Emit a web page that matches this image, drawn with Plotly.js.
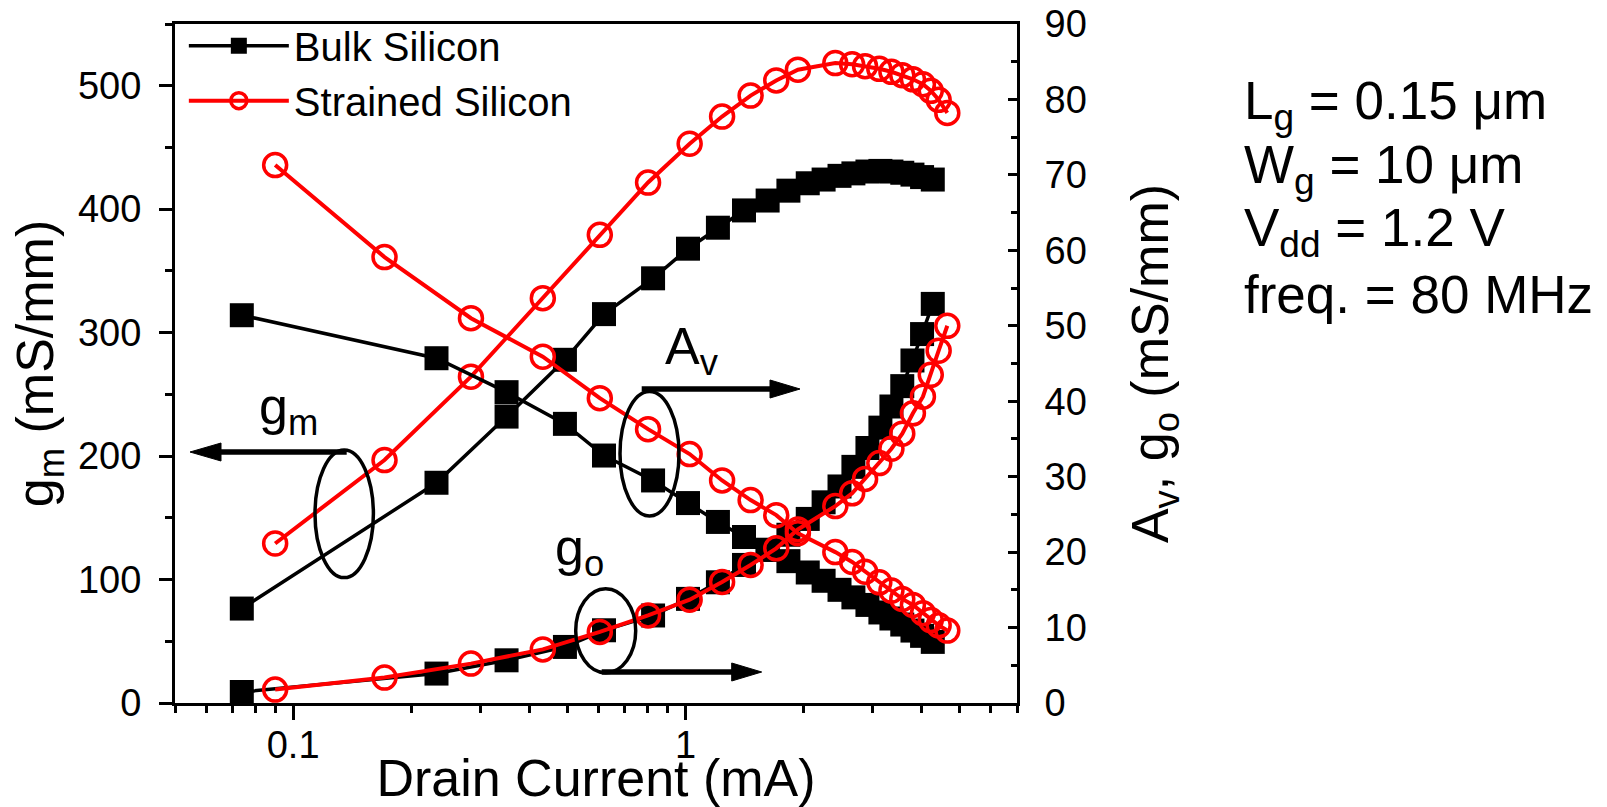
<!DOCTYPE html>
<html><head><meta charset="utf-8">
<script src="https://cdn.plot.ly/plotly-3.0.1.min.js"></script>
<style>html,body{margin:0;padding:0;background:#fff}</style>
</head><body><div id="chart" style="width:1607px;height:807px"></div>
<script>
// ---- data ----
const bulkCurrent = [0.074, 0.232, 0.35, 0.493, 0.62, 0.827, 1.015, 1.21, 1.41, 1.62, 1.83, 2.05, 2.25, 2.47, 2.68, 2.91, 3.14, 3.35, 3.57, 3.79, 4.01, 4.27];
const bulkGm = [76.5, 178.4, 232, 278, 315, 344, 368, 385, 399, 407, 415, 421, 424, 427, 429, 430.5, 431, 430.5, 429.5, 428, 426, 424];
const bulkAv = [51.4, 45.7, 41.2, 37.0, 32.8, 29.5, 26.5, 24.0, 22.0, 20.3, 18.8, 17.3, 16.2, 15.0, 14.0, 13.0, 12.0, 11.2, 10.4, 9.6, 8.9, 8.1];
const bulkGo = [1.46, 3.9, 5.66, 7.43, 9.64, 11.6, 13.8, 16.0, 18.3, 20.3, 22.3, 24.4, 26.6, 28.7, 31.3, 33.8, 36.5, 39.3, 42.0, 45.4, 48.9, 52.9];

const strainedCurrent = [0.09, 0.171, 0.284, 0.433, 0.605, 0.803, 1.025, 1.24, 1.466, 1.704, 1.935, 2.41, 2.66, 2.87, 3.12, 3.35, 3.57, 3.80, 4.03, 4.22, 4.42, 4.65];
const strainedGm = [129.2, 196.8, 264.3, 327.9, 379.2, 421.6, 453, 475, 492, 504.3, 513, 518.4, 517.4, 515.8, 513.7, 511.3, 508.5, 505.2, 501.2, 495.9, 488.6, 478];
const strainedAv = [71.3, 59.1, 51.0, 45.9, 40.4, 36.3, 33.0, 29.5, 26.9, 24.9, 22.5, 20.0, 18.7, 17.4, 16.0, 14.9, 13.8, 13.0, 11.9, 11.0, 10.3, 9.6];
const strainedGo = [1.78, 3.37, 5.22, 7.1, 9.42, 11.6, 13.7, 16.05, 18.3, 20.5, 23.0, 26.1, 27.8, 29.7, 31.8, 33.7, 35.7, 38.4, 40.6, 43.5, 46.7, 50.0];

const seriesNames = ['Bulk Silicon', 'Strained Silicon'];
const xTickVals = [0.1, 1];
const xTickText = ['0.1', '1'];
const xMinorVals = [0.05, 0.06, 0.07, 0.08, 0.09, 0.2, 0.3, 0.4, 0.5, 0.6, 0.7, 0.8, 0.9, 2, 3, 4, 5, 6, 7];
const leftTickVals = [0, 100, 200, 300, 400, 500];
const rightTickVals = [0, 10, 20, 30, 40, 50, 60, 70, 80, 90];
const paramLines = ['L<sub>g</sub> = 0.15 μm', 'W<sub>g</sub> = 10 μm', 'V<sub>dd</sub> = 1.2 V', 'freq. = 80 MHz'];

// ---- layout geometry (pixels) ----
const W = 1607, H = 807, PL = 175, PR = 1017, PT = 24, PB = 703;
const px = v => (v - PL) / (PR - PL);
const py = v => (PB - v) / (PB - PT);
const FONT = 'Liberation Sans, Arial, Helvetica, sans-serif';

const black = '#000000', red = '#ff0000';
function bulkTrace(y, yaxis, show) {
  return {x: bulkCurrent, y: y, yaxis: yaxis, type: 'scatter', mode: 'lines+markers',
    name: seriesNames[0], legendgroup: 'bulk', showlegend: show,
    line: {color: black, width: 3.5},
    marker: {symbol: 'square', size: 24, color: black, line: {width: 0}}, cliponaxis: false};
}
function strainedTrace(y, yaxis, show) {
  return {x: strainedCurrent, y: y, yaxis: yaxis, type: 'scatter', mode: 'lines+markers',
    name: seriesNames[1], legendgroup: 'strained', showlegend: show,
    line: {color: red, width: 4},
    marker: {symbol: 'circle-open', size: 23, color: red, line: {width: 3.5, color: red}}, cliponaxis: false};
}

const data = [
  bulkTrace(bulkGm, 'y', true),
  bulkTrace(bulkAv, 'y2', false),
  bulkTrace(bulkGo, 'y2', false),
  strainedTrace(strainedGm, 'y', true),
  strainedTrace(strainedAv, 'y2', false),
  strainedTrace(strainedGo, 'y2', false)
];

function ellipse(cx, cy, rx, ry) {
  return {type: 'circle', xref: 'paper', yref: 'paper',
    x0: px(cx - rx), x1: px(cx + rx), y0: py(cy + ry), y1: py(cy - ry),
    line: {color: black, width: 3.5}};
}
function hline(x0, x1, y, w) {
  return {type: 'line', xref: 'paper', yref: 'paper', x0: px(x0), x1: px(x1), y0: py(y), y1: py(y),
    line: {color: black, width: w}};
}
function head(tipX, baseX, y, half) {
  return {type: 'path', xref: 'paper', yref: 'paper',
    path: 'M' + px(tipX) + ',' + py(y) + ' L' + px(baseX) + ',' + py(y - half) + ' L' + px(baseX) + ',' + py(y + half) + ' Z',
    fillcolor: black, line: {color: black, width: 1}};
}

const shapes = [
  ellipse(344.2, 513.8, 29.2, 63.8),
  hline(346.7, 215, 452, 5.5), head(190, 221, 452, 9),
  ellipse(649.5, 453.8, 29.5, 62.2),
  hline(641.7, 775, 389, 5.5), head(800, 770, 389, 9),
  ellipse(605.7, 630.7, 30, 42),
  hline(601.7, 735, 672, 5.5), head(761.7, 731.7, 672, 9)
];

function label(text, x, y, size) {
  return {text: text, xref: 'paper', yref: 'paper', x: px(x), y: py(y), xanchor: 'left', yanchor: 'middle',
    showarrow: false, font: {family: FONT, size: size, color: black}};
}
const annotations = [
  label('g<sub>m</sub>', 257, 410, 52),
  label('A<sub>v</sub>', 663, 350, 52),
  label('g<sub>o</sub>', 553, 551, 52)
];
const paramCenters = [104, 168, 231, 294];
paramLines.forEach((t, i) => annotations.push(label(t, 1242, paramCenters[i], 53)));

const layout = {
  width: W, height: H,
  margin: {l: PL, r: W - PR, t: PT, b: H - PB, pad: 0},
  paper_bgcolor: '#ffffff', plot_bgcolor: '#ffffff',
  font: {family: FONT, color: black, size: 37},
  showlegend: true,
  legend: {x: 0.0105, y: 1.016, xanchor: 'left', yanchor: 'top', bgcolor: 'rgba(0,0,0,0)',
    font: {family: FONT, size: 40, color: black}, itemwidth: 100, tracegroupgap: 0},
  xaxis: {type: 'log', range: [Math.log10(0.05), Math.log10(7)],
    tickmode: 'array', tickvals: xTickVals, ticktext: xTickText,
    ticks: 'outside', ticklen: 14, tickwidth: 3, tickcolor: black,
    minor: {tickmode: 'array', tickvals: xMinorVals, ticks: 'outside', ticklen: 7, tickwidth: 3, tickcolor: black, showgrid: false},
    showline: true, linewidth: 3, linecolor: black, mirror: true,
    showgrid: false, zeroline: false, ticklabelstandoff: -8,
    tickfont: {family: FONT, size: 38, color: black},
    title: {text: 'Drain Current (mA)', font: {family: FONT, size: 52, color: black}, standoff: 16},
    automargin: false},
  yaxis: {range: [0, 550], tickmode: 'array', tickvals: leftTickVals,
    ticks: 'outside', ticklen: 13, tickwidth: 3, tickcolor: black,
    minor: {dtick: 50, ticks: 'outside', ticklen: 7, tickwidth: 3, tickcolor: black, showgrid: false},
    showline: true, linewidth: 3, linecolor: black,
    showgrid: false, zeroline: false, ticklabelstandoff: 10,
    tickfont: {family: FONT, size: 38, color: black},
    title: {text: 'g<sub>m</sub> (mS/mm)', font: {family: FONT, size: 52, color: black}, standoff: 8},
    automargin: false},
  yaxis2: {range: [0, 90], overlaying: 'y', side: 'right', tickmode: 'array', tickvals: rightTickVals,
    ticks: 'inside', ticklen: 9, tickwidth: 3, tickcolor: black,
    minor: {dtick: 5, ticks: 'inside', ticklen: 6, tickwidth: 3, tickcolor: black, showgrid: false},
    showline: true, linewidth: 3, linecolor: black,
    showgrid: false, zeroline: false, ticklabelstandoff: 17,
    tickfont: {family: FONT, size: 38, color: black},
    title: {text: 'A<sub>v</sub>, g<sub>o</sub> (mS/mm)', font: {family: FONT, size: 52, color: black}, standoff: 46},
    automargin: false},
  shapes: shapes,
  annotations: annotations
};

Plotly.newPlot('chart', data, layout, {staticPlot: true, displayModeBar: false});
</script>
</body></html>
